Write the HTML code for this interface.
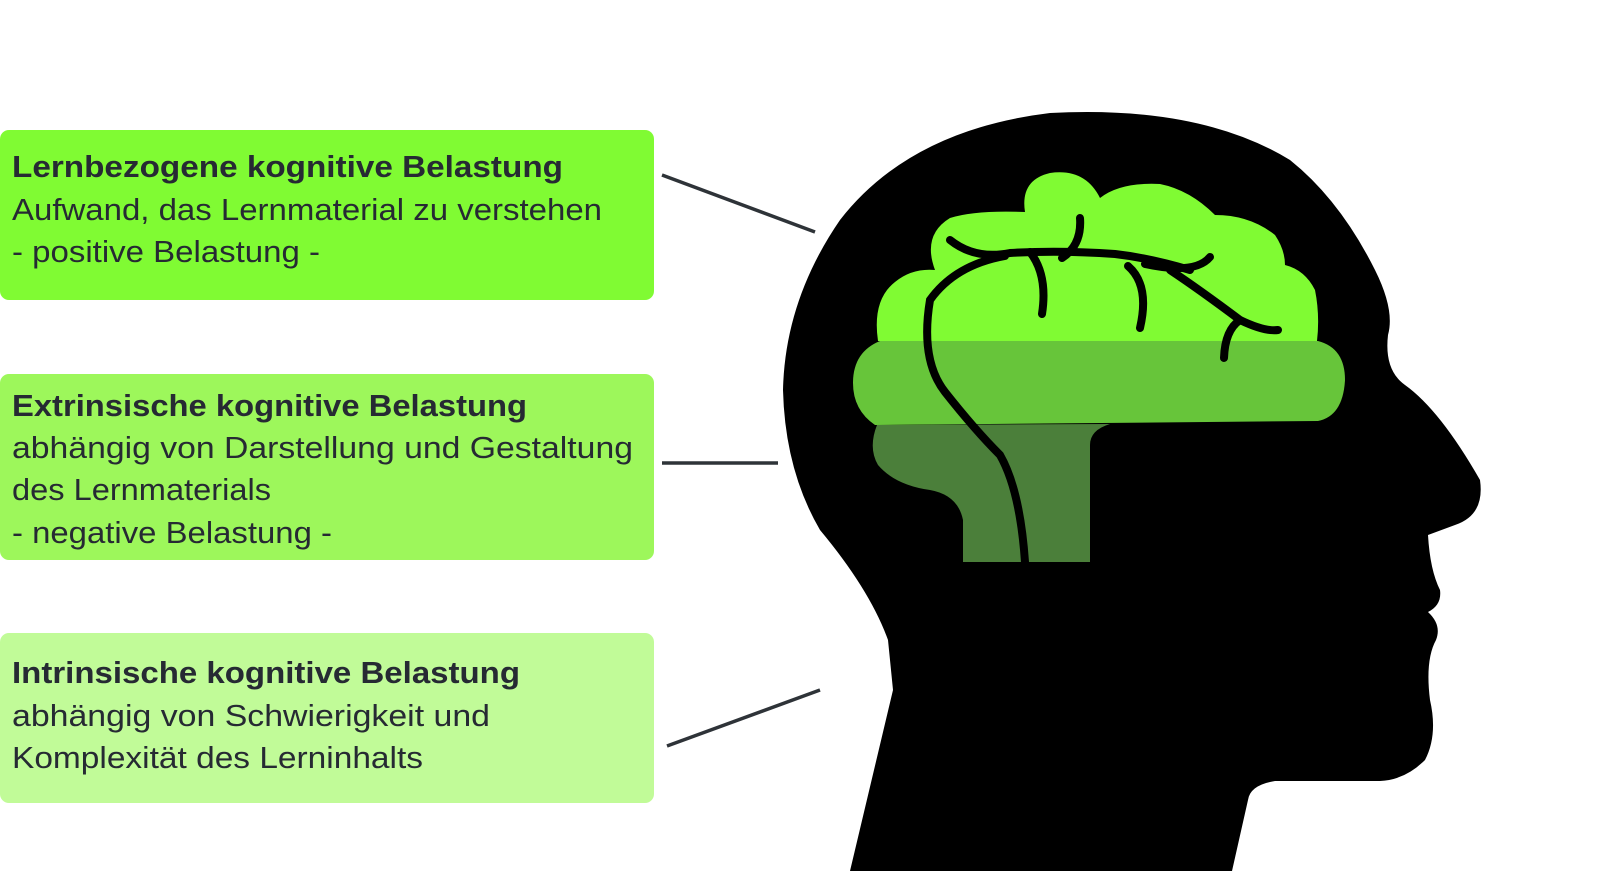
<!DOCTYPE html>
<html><head><meta charset="utf-8"><style>
html,body{margin:0;padding:0;background:#fff;}
svg{display:block}
text{font-family:"Liberation Sans",sans-serif;fill:#262a33;font-size:31px}
.b{font-weight:bold}
</style></head><body>
<svg width="1600" height="891" viewBox="0 0 1600 891" xmlns="http://www.w3.org/2000/svg">
<rect x="0" y="130" width="654" height="170" rx="9" fill="#80fb33"/>
<rect x="0" y="374" width="654" height="186" rx="9" fill="#9df75b"/>
<rect x="0" y="633" width="654" height="170" rx="9" fill="#c1fb98"/>

<text class="b" x="12" y="177" textLength="551" lengthAdjust="spacingAndGlyphs">Lernbezogene kognitive Belastung</text>
<text x="12" y="220" textLength="590" lengthAdjust="spacingAndGlyphs">Aufwand, das Lernmaterial zu verstehen</text>
<text x="12" y="262" textLength="308" lengthAdjust="spacingAndGlyphs">- positive Belastung -</text>

<text class="b" x="12" y="416" textLength="515" lengthAdjust="spacingAndGlyphs">Extrinsische kognitive Belastung</text>
<text x="12" y="458" textLength="621" lengthAdjust="spacingAndGlyphs">abhängig von Darstellung und Gestaltung</text>
<text x="12" y="500" textLength="259" lengthAdjust="spacingAndGlyphs">des Lernmaterials</text>
<text x="12" y="543" textLength="320" lengthAdjust="spacingAndGlyphs">- negative Belastung -</text>

<text class="b" x="12" y="683" textLength="508" lengthAdjust="spacingAndGlyphs">Intrinsische kognitive Belastung</text>
<text x="12" y="726" textLength="478" lengthAdjust="spacingAndGlyphs">abhängig von Schwierigkeit und</text>
<text x="12" y="768" textLength="411" lengthAdjust="spacingAndGlyphs">Komplexität des Lerninhalts</text>

<g stroke="#2e3338" stroke-width="3.5">
<line x1="662" y1="175" x2="815" y2="232"/>
<line x1="662" y1="463" x2="778" y2="463"/>
<line x1="667" y1="746" x2="820" y2="690"/>
</g>

<path fill="#000" d="M850 871 L893 690 L888 640 Q870 590 820 530 Q785 470 783 390 Q785 300 840 220 Q910 130 1050 113 Q1200 105 1290 160 Q1340 200 1375 270 Q1395 310 1388 335 Q1384 370 1405 385 Q1440 410 1480 480 Q1485 515 1455 525 L1428 535 Q1430 570 1440 590 Q1442 605 1428 612 Q1442 625 1436 640 Q1425 660 1430 700 Q1438 735 1425 760 Q1405 780 1380 781 L1275 781 Q1250 785 1248 800 L1232 871 Z"/>

<path fill="#80fb33" d="M878 341 Q872 300 895 282 Q912 268 935 270 Q922 235 950 218 Q975 210 1025 212 Q1020 180 1050 173 Q1085 168 1100 198 Q1120 182 1160 184 Q1190 190 1215 215 Q1250 215 1275 235 Q1285 250 1285 265 Q1305 270 1315 290 Q1320 315 1317 341 Z"/>
<path fill="#67c53a" d="M853 383 Q853 352 880 341 L1318 341 Q1345 348 1345 380 Q1343 416 1318 421 L875 425 Q853 410 853 383 Z"/>
<path fill="#4b7f3a" d="M877 425 L1110 424 Q1090 430 1090 445 L1090 562 L963 562 L963 520 Q958 495 930 490 Q895 485 878 465 Q868 448 877 425 Z"/>

<g fill="none" stroke="#000" stroke-width="8" stroke-linecap="round">
<path d="M950 240 Q975 260 1010 253 Q1060 250 1115 254 Q1150 258 1190 270"/>
<path d="M1080 218 Q1082 245 1062 258"/>
<path d="M1145 264 Q1195 275 1210 257"/>
<path d="M1030 252 Q1048 275 1042 314"/>
<path d="M1128 266 Q1150 285 1140 328"/>
<path d="M1170 270 Q1200 290 1240 320 Q1265 332 1278 330"/>
<path d="M1240 320 Q1225 330 1224 358"/>
<path d="M1005 256 Q955 265 930 300 Q920 360 945 392 Q975 430 1000 455 Q1020 490 1025 562"/>
</g>
</svg>
</body></html>
